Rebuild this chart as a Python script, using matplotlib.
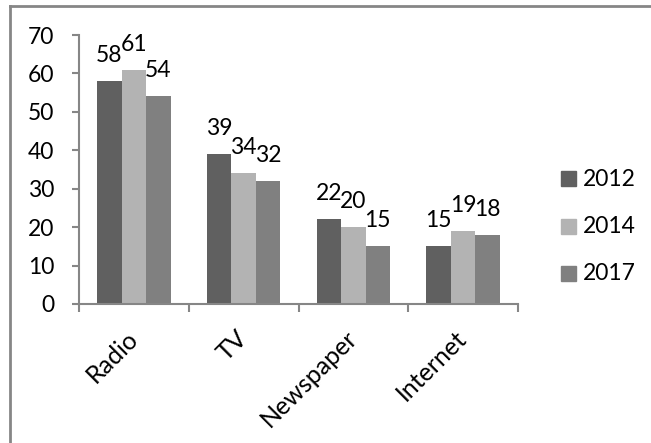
import matplotlib
matplotlib.use('Agg')
import matplotlib.pyplot as plt
import numpy as np
from matplotlib.patches import Rectangle
from matplotlib.lines import Line2D

plt.rcParams['font.family'] = ['Lato', 'DejaVu Sans']

# media usage by year
categories = ['Radio', 'TV', 'Newspaper', 'Internet']
years = ['2012', '2014', '2017']
values_2012 = [58, 39, 22, 15]
values_2014 = [61, 34, 20, 19]
values_2017 = [54, 32, 15, 18]
yticks = [0, 10, 20, 30, 40, 50, 60, 70]

series = [values_2012, values_2014, values_2017]
colors = ['#606060', '#b3b3b3', '#808080']
axis_gray = '#868686'

fig = plt.figure(figsize=(6.51, 4.43), dpi=100)
ax = fig.add_axes([79/651, 1 - 304/443, (518 - 79)/651, (304 - 35)/443])

x = np.arange(len(categories))
w = 0.223
for i, (vals, col) in enumerate(zip(series, colors)):
    pos = x + (i - 1) * w
    ax.bar(pos, vals, width=w, color=col, label=years[i], zorder=2)
    for px, v in zip(pos, vals):
        ax.annotate(str(v), (px, v), xytext=(0, 19), textcoords='offset pixels',
                    ha='center', va='baseline', fontsize=16.5)

ax.set_xlim(-0.5, len(categories) - 0.5)
ax.set_ylim(0, 70)
ax.set_yticks(yticks)
ax.tick_params(axis='y', length=5, width=1.5, color=axis_gray, labelsize=16.5, pad=13)

# category labels at centres, tick marks on the boundaries
ax.set_xticks(x)
ax.set_xticklabels(categories, rotation=45, ha='right', va='center',
                   rotation_mode='anchor', fontsize=18)
ax.tick_params(axis='x', length=0, pad=22)
ax.set_xticks(np.arange(len(categories) + 1) - 0.5, minor=True)
ax.tick_params(axis='x', which='minor', length=6, width=1.5, color=axis_gray)

for s in ['top', 'right']:
    ax.spines[s].set_visible(False)
for s in ['left', 'bottom']:
    ax.spines[s].set_color(axis_gray)
    ax.spines[s].set_linewidth(1.5)

# legend entries
for i, (yr, col) in enumerate(zip(years, colors)):
    ly = 1 - (179 + i * 47.5) / 443
    fig.patches.append(Rectangle((561/651, ly - 7/443), 15/651, 15/443,
                                 transform=fig.transFigure, color=col))
    fig.text(583/651, ly, yr, fontsize=16.5, va='center', ha='left')

# outer frame
fig.add_artist(Line2D([10/651, 1], [1 - 6/443] * 2, color=axis_gray, lw=2))
fig.add_artist(Line2D([10/651] * 2, [0, 1 - 6/443], color=axis_gray, lw=2))

# caption above, cut off by the top edge
fig.text(38/651, 1 + 7/443, 'g', family='Liberation Serif', fontweight='bold',
         fontsize=16, ha='left', va='baseline')

fig.savefig('out.png', dpi=100)
